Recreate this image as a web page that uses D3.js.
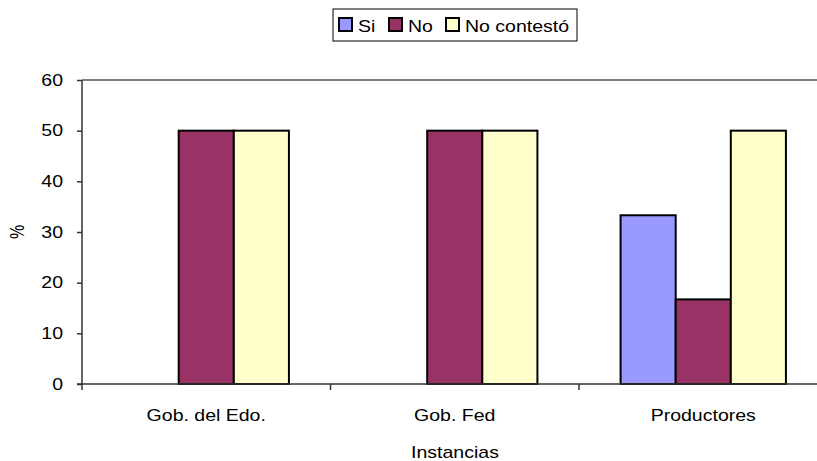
<!DOCTYPE html>
<html>
<head>
<meta charset="utf-8">
<script src="https://cdn.jsdelivr.net/npm/d3@7"></script>
<style>
  html, body { margin: 0; padding: 0; background: #fff; }
  svg { display: block; font-family: "Liberation Sans", Arial, sans-serif; }
</style>
</head>
<body>
<svg id="chart" width="817" height="461"></svg>
<script>
// Respuestas por instancia (%)
const categories = ["Gob. del Edo.", "Gob. Fed", "Productores"];
const seriesNames = ["Si", "No", "No contestó"];
const siValues = [0, 0, 33.3];
const noValues = [50, 50, 16.7];
const noContestoValues = [50, 50, 50];
const seriesColors = ["#9999FF", "#993366", "#FFFFCC"];
const yTicks = [0, 10, 20, 30, 40, 50, 60];

const seriesValues = [siValues, noValues, noContestoValues];

// Text is drawn slightly widened horizontally
const SX = 1.22;
const FONT = 16;

const svg = d3.select("#chart");
const plot = { left: 82, top: 80, bottom: 384, right: 827.5 };

const x = d3.scaleBand().domain(categories).range([plot.left, plot.right]).paddingInner(0).paddingOuter(0);
const xInner = d3.scaleBand().domain(seriesNames).range([0, x.bandwidth()]).paddingInner(0).paddingOuter(0.7545);
const y = d3.scaleLinear().domain([0, 60]).range([plot.bottom, plot.top]);

function wideText(parent, px, py, str, anchor) {
  return parent.append("text")
    .attr("transform", `translate(${px},${py}) scale(${SX},1)`)
    .attr("text-anchor", anchor || "start")
    .attr("font-size", FONT)
    .attr("fill", "#000")
    .text(str);
}

// Plot area top border
svg.append("line")
  .attr("x1", plot.left).attr("x2", 817)
  .attr("y1", plot.top).attr("y2", plot.top)
  .attr("stroke", "#808080").attr("stroke-width", 2);

// Bars
const groups = svg.append("g").selectAll("g")
  .data(categories)
  .join("g")
  .attr("transform", d => `translate(${x(d)},0)`);

groups.selectAll("rect")
  .data((c, i) => seriesNames.map((s, j) => ({ s, v: seriesValues[j][i], color: seriesColors[j] })).filter(d => d.v > 0))
  .join("rect")
  .attr("x", d => xInner(d.s))
  .attr("width", xInner.bandwidth())
  .attr("y", d => y(d.v))
  .attr("height", d => y(0) - y(d.v))
  .attr("fill", d => d.color)
  .attr("stroke", "#000")
  .attr("stroke-width", 2);

// Y axis
const yAxis = d3.axisLeft(y).tickValues(yTicks).tickSize(5).tickPadding(14).tickFormat(d3.format("d"));
const gy = svg.append("g").attr("transform", `translate(${plot.left},0)`).call(yAxis);
gy.select(".domain").attr("stroke", "#333").attr("stroke-width", 1.5).attr("d", `M-0,${plot.top}V${plot.bottom + 6}`);
gy.selectAll(".tick line").attr("stroke", "#333").attr("stroke-width", 1.5);
gy.selectAll(".tick text")
  .attr("font-size", FONT).attr("fill", "#000")
  .attr("font-family", "Liberation Sans, Arial, sans-serif")
  .attr("x", -19 / SX)
  .attr("transform", `scale(${SX},1)`);

// X axis
const xAxis = d3.axisBottom(x).tickSize(0).tickPadding(26);
const gx = svg.append("g").attr("transform", `translate(0,${plot.bottom})`).call(xAxis);
gx.select(".domain").attr("stroke", "#333").attr("stroke-width", 1.5).attr("d", `M${plot.left - 5},0H817`);
gx.selectAll(".tick text")
  .attr("font-size", FONT).attr("fill", "#000")
  .attr("font-family", "Liberation Sans, Arial, sans-serif")
  .attr("transform", `scale(${SX},1)`);
// Separators between categories
gx.selectAll(".sep")
  .data(categories.slice(1))
  .join("line")
  .attr("class", "sep")
  .attr("x1", d => x(d)).attr("x2", d => x(d))
  .attr("y1", 0).attr("y2", 6)
  .attr("stroke", "#333").attr("stroke-width", 1.5);

// Axis titles
wideText(svg, 455, 458, "Instancias", "middle");

svg.append("text")
  .attr("transform", `translate(24,232) rotate(-90) scale(1,${SX})`)
  .attr("text-anchor", "middle")
  .attr("font-size", FONT)
  .text("%");

// Legend
const legend = svg.append("g");
legend.append("rect")
  .attr("x", 333).attr("y", 9).attr("width", 244).attr("height", 32)
  .attr("fill", "#fff").attr("stroke", "#000").attr("stroke-width", 1);

const legendX = [339, 389, 446];
const item = legend.selectAll(".item")
  .data(seriesNames)
  .join("g")
  .attr("class", "item")
  .attr("transform", (d, i) => `translate(${legendX[i]},18)`);
item.append("rect")
  .attr("width", 13).attr("height", 13)
  .attr("fill", (d, i) => seriesColors[i])
  .attr("stroke", "#000").attr("stroke-width", 2);
item.each(function (d) {
  wideText(d3.select(this), 19, 13.5, d);
});
</script>
</body>
</html>
